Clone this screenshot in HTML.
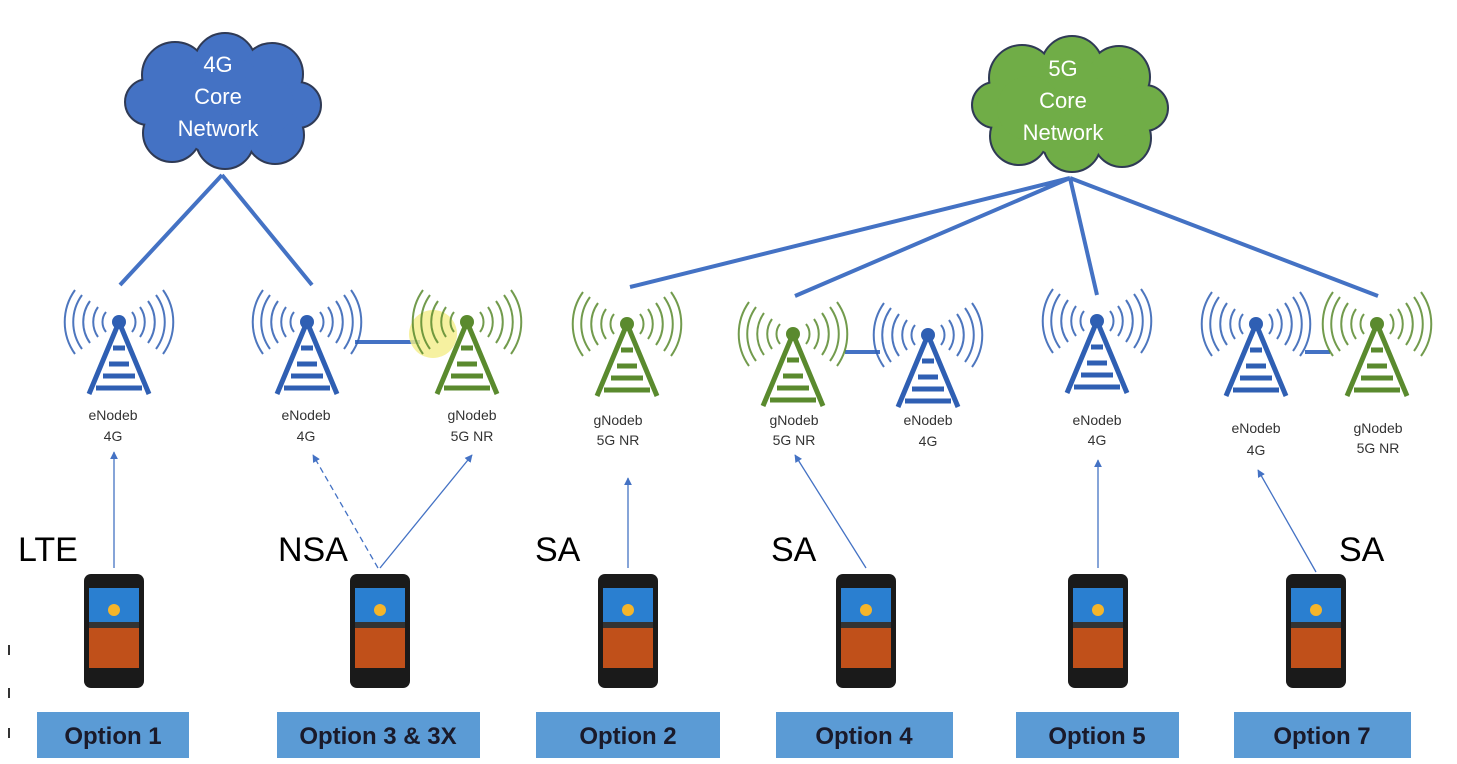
<!DOCTYPE html>
<html><head><meta charset="utf-8"><style>
body{margin:0;background:#fff;}
svg{display:block;font-family:"Liberation Sans",sans-serif;}
.lbl{font-size:14px;fill:#333;text-anchor:middle;}
.big{font-size:34px;fill:#000;}
.opt{font-size:24px;font-weight:bold;fill:#1a1a2a;text-anchor:middle;}
.ct{font-size:22px;fill:#fff;text-anchor:middle;}
</style></head><body>
<svg width="1457" height="764" viewBox="0 0 1457 764">
<defs>
<g id="tw">
 <circle cx="0" cy="0" r="7" fill="currentColor"/>
 <path d="M0 0 L-30 72 M0 0 L30 72 M-10 42 L10 42 M-16 54 L16 54 M-23 66 L23 66 M-6 26 L6 26" stroke="currentColor" stroke-width="5" fill="none"/>
 <g fill="none" stroke="currentColor" stroke-width="2" opacity="0.85">
  <path d="M-13 -10 A16 16 0 0 0 -13 10 M13 -10 A16 16 0 0 1 13 10"/>
  <path d="M-21 -15 A26 26 0 0 0 -21 15 M21 -15 A26 26 0 0 1 21 15"/>
  <path d="M-29 -21 A36 36 0 0 0 -29 21 M29 -21 A36 36 0 0 1 29 21"/>
  <path d="M-37 -27 A46 46 0 0 0 -37 27 M37 -27 A46 46 0 0 1 37 27"/>
  <path d="M-44 -32 A55 55 0 0 0 -44 32 M44 -32 A55 55 0 0 1 44 32"/>
 </g>
</g>
<g id="cl">
 <circle cx="175" cy="75" r="32"/><circle cx="225" cy="64" r="30"/><circle cx="272" cy="74" r="30"/>
 <circle cx="298" cy="105" r="22"/><circle cx="275" cy="135" r="28"/><circle cx="225" cy="140" r="28"/>
 <circle cx="172" cy="133" r="28"/><circle cx="148" cy="102" r="22"/><circle cx="222" cy="105" r="50"/>
 <circle cx="262" cy="105" r="32"/><circle cx="182" cy="105" r="32"/>
</g>
<g id="ph">
 <rect x="-30" y="0" width="60" height="114" rx="7" fill="#1a1a1a"/>
 <rect x="-25" y="14" width="50" height="80" fill="#c0501a"/>
 <rect x="-25" y="14" width="50" height="34" fill="#2a7fd0"/>
 <circle cx="0" cy="36" r="6" fill="#f5b52a"/>
 <rect x="-25" y="48" width="50" height="6" fill="#333"/>
</g>
<marker id="ar" viewBox="0 0 10 10" refX="9" refY="5" markerWidth="6" markerHeight="6" orient="auto"><path d="M0 0 L10 5 L0 10z" fill="#4472c4"/></marker>
</defs>

<g stroke="#2f3a55" stroke-width="4" fill="#2f3a55"><use href="#cl"/></g>
<g fill="#4472c4"><use href="#cl"/></g>
<g transform="translate(847,3)"><g stroke="#2f3a55" stroke-width="4" fill="#2f3a55"><use href="#cl"/></g><g fill="#70ad47"><use href="#cl"/></g></g>
<text class="ct" x="218" y="72">4G</text><text class="ct" x="218" y="104">Core</text><text class="ct" x="218" y="136">Network</text>
<text class="ct" x="1063" y="76">5G</text><text class="ct" x="1063" y="108">Core</text><text class="ct" x="1063" y="140">Network</text>

<g stroke="#4472c4" stroke-width="4" fill="none">
 <path d="M222 175 L120 285 M222 175 L312 285"/>
 <path d="M1070 178 L630 287 M1070 178 L795 296 M1070 178 L1097 295 M1070 178 L1378 296"/>
 <path d="M355 342 L420 342 M845 352 L880 352 M1305 352 L1330 352"/>
</g>
<circle cx="433" cy="334" r="24" fill="#f4ee88" opacity="0.8"/>

<g color="#2f5fb3"><use href="#tw" x="119" y="322"/><use href="#tw" x="307" y="322"/><use href="#tw" x="928" y="335"/><use href="#tw" x="1097" y="321"/><use href="#tw" x="1256" y="324"/></g>
<g color="#5a8a2e"><use href="#tw" x="467" y="322"/><use href="#tw" x="627" y="324"/><use href="#tw" x="793" y="334"/><use href="#tw" x="1377" y="324"/></g>

<text class="lbl" x="113" y="420">eNodeb</text><text class="lbl" x="113" y="441">4G</text>
<text class="lbl" x="306" y="420">eNodeb</text><text class="lbl" x="306" y="441">4G</text>
<text class="lbl" x="472" y="420">gNodeb</text><text class="lbl" x="472" y="441">5G NR</text>
<text class="lbl" x="618" y="425">gNodeb</text><text class="lbl" x="618" y="445">5G NR</text>
<text class="lbl" x="794" y="425">gNodeb</text><text class="lbl" x="794" y="445">5G NR</text>
<text class="lbl" x="928" y="425">eNodeb</text><text class="lbl" x="928" y="446">4G</text>
<text class="lbl" x="1097" y="425">eNodeb</text><text class="lbl" x="1097" y="445">4G</text>
<text class="lbl" x="1256" y="433">eNodeb</text><text class="lbl" x="1256" y="455">4G</text>
<text class="lbl" x="1378" y="433">gNodeb</text><text class="lbl" x="1378" y="453">5G NR</text>

<g stroke="#4472c4" stroke-width="1.3" fill="none" marker-end="url(#ar)">
 <path d="M114 568 L114 452"/>
 <path d="M378 568 L313 455" stroke-dasharray="6 4"/>
 <path d="M380 568 L472 455"/>
 <path d="M628 568 L628 478"/>
 <path d="M866 568 L795 455"/>
 <path d="M1098 568 L1098 460"/>
 <path d="M1316 572 L1258 470"/>
</g>

<text class="big" x="18" y="561">LTE</text>
<text class="big" x="278" y="561">NSA</text>
<text class="big" x="535" y="561">SA</text>
<text class="big" x="771" y="561">SA</text>
<text class="big" x="1339" y="561">SA</text>

<use href="#ph" x="114" y="574"/><use href="#ph" x="380" y="574"/><use href="#ph" x="628" y="574"/>
<use href="#ph" x="866" y="574"/><use href="#ph" x="1098" y="574"/><use href="#ph" x="1316" y="574"/>

<g fill="#5b9bd5">
 <rect x="37" y="712" width="152" height="46"/><rect x="277" y="712" width="203" height="46"/>
 <rect x="536" y="712" width="184" height="46"/><rect x="776" y="712" width="177" height="46"/>
 <rect x="1016" y="712" width="163" height="46"/><rect x="1234" y="712" width="177" height="46"/>
</g>
<text class="opt" x="113" y="744">Option 1</text>
<text class="opt" x="378" y="744">Option 3 &amp; 3X</text>
<text class="opt" x="628" y="744">Option 2</text>
<text class="opt" x="864" y="744">Option 4</text>
<text class="opt" x="1097" y="744">Option 5</text>
<text class="opt" x="1322" y="744">Option 7</text>
<g stroke="#333" stroke-width="2"><path d="M9 645 v10 M9 688 v10 M9 728 v10"/></g>
</svg>
</body></html>
